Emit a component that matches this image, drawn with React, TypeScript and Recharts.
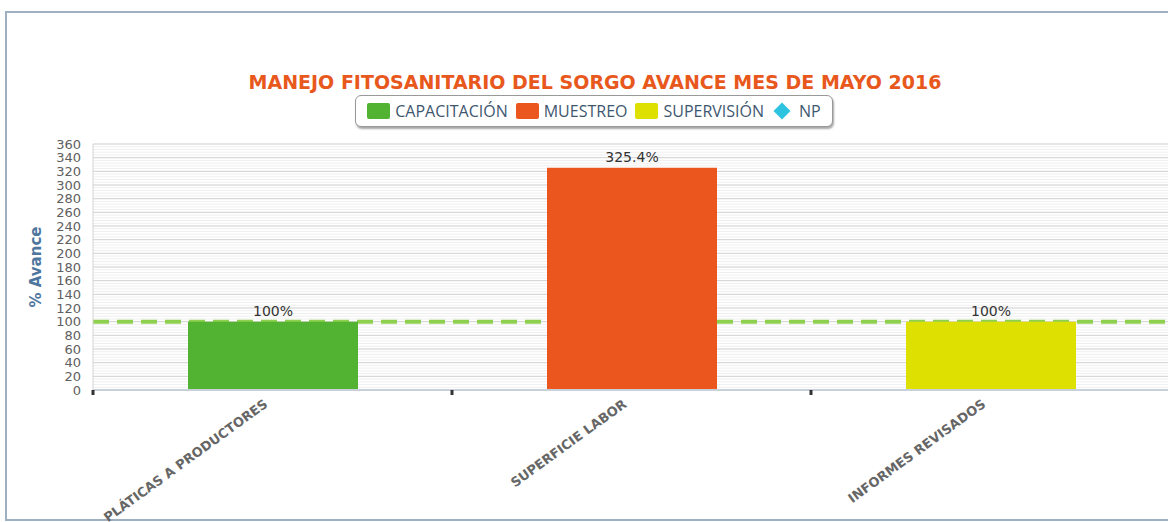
import { BarChart, Bar, XAxis, YAxis, CartesianGrid, Cell, LabelList } from 'recharts'

const categories = ['PLÁTICAS A PRODUCTORES', 'SUPERFICIE LABOR', 'INFORMES REVISADOS']
const avance = [100, 325.4, 100]
const barColors = ['#52b332', '#ea561d', '#dde000']
const metaNP = 100
const yTicks = [0, 20, 40, 60, 80, 100, 120, 140, 160, 180, 200, 220, 240, 260, 280, 300, 320, 340, 360]
const legendItems = [
  { label: 'CAPACITACIÓN', color: '#52b332', shape: 'square' },
  { label: 'MUESTREO', color: '#ea561d', shape: 'square' },
  { label: 'SUPERVISIÓN', color: '#dde000', shape: 'square' },
  { label: 'NP', color: '#2ec4e0', shape: 'diamond' }
]

const data = categories.map((name, i) => ({ name, value: avance[i] }))

// minor grid: every 4 units between the major lines
const minorTicks: number[] = []
for (let v = 0; v <= 360; v += 4) minorTicks.push(v)

const CHART_W = 1180
const PLOT_L = 93
const PLOT_R = 1170
const HALF_BAND = (PLOT_R - PLOT_L) / categories.length / 2

const font = '"DejaVu Sans", Verdana, sans-serif'

function CategoryTick(props: any) {
  const { x, y, payload } = props
  return (
    <g>
      <line x1={x - HALF_BAND} x2={x - HALF_BAND} y1={y - 8} y2={y - 3} stroke="#333" strokeWidth={3} />
      <text
        x={x - 4}
        y={y + 8}
        textAnchor="end"
        transform={`rotate(-36, ${x - 4}, ${y + 8})`}
        fill="#666"
        fontSize={13}
        fontWeight="bold"
        fontFamily={font}
      >
        {payload.value}
      </text>
    </g>
  )
}

export default function App() {
  return (
    <div style={{ position: 'absolute', left: 0, top: 0, width: 1168, height: 522, overflow: 'hidden', background: '#fff' }}>
      <div
        style={{
          position: 'absolute',
          left: 5,
          top: 11,
          width: 1200,
          height: 510,
          border: '2px solid #9fb0c0',
          boxSizing: 'border-box'
        }}
      />
      <div
        style={{
          position: 'absolute',
          left: 0,
          top: 71,
          width: 1190,
          textAlign: 'center',
          color: '#e8581c',
          fontFamily: font,
          fontWeight: 'bold',
          fontSize: 19
        }}
      >
        MANEJO FITOSANITARIO DEL SORGO AVANCE MES DE MAYO 2016
      </div>
      <div
        style={{
          position: 'absolute',
          left: 355,
          top: 95,
          width: 478,
          height: 32,
          border: '1px solid #999',
          borderRadius: 6,
          boxShadow: '1px 2px 2px rgba(0,0,0,0.35)',
          background: '#fff',
          display: 'flex',
          alignItems: 'center',
          justifyContent: 'center',
          gap: 8,
          boxSizing: 'border-box',
          fontFamily: '"Open Sans", sans-serif',
          fontSize: 16,
          color: '#3e576f'
        }}
      >
        {legendItems.map(it => (
          <div key={it.label} style={{ display: 'flex', alignItems: 'center', gap: 5 }}>
            {it.shape === 'square' ? (
              <span style={{ width: 23, height: 16, background: it.color, borderRadius: 2, display: 'inline-block' }} />
            ) : (
              <span style={{ width: 12, height: 12, background: it.color, transform: 'rotate(45deg)', display: 'inline-block', margin: '0 6px 0 4px' }} />
            )}
            <span>{it.label}</span>
          </div>
        ))}
      </div>
      <div style={{ position: 'absolute', left: 0, top: 0 }}>
        <BarChart width={CHART_W} height={522} data={data} margin={{ top: 144, right: CHART_W - PLOT_R, bottom: 0, left: 0 }}>
          <CartesianGrid horizontalValues={minorTicks} vertical={false} stroke="#efefef" strokeWidth={1} />
          <CartesianGrid horizontalValues={yTicks} vertical={false} stroke="#d4d4d4" strokeWidth={1} />
          <CartesianGrid horizontalValues={[metaNP]} vertical={false} stroke="#8fd14f" strokeWidth={4} strokeDasharray="16 8" />
          <XAxis
            dataKey="name"
            height={132}
            tickLine={false}
            tick={<CategoryTick />}
            axisLine={{ stroke: '#c8d0da', strokeWidth: 2 }}
            interval={0}
          />
          <YAxis
            width={PLOT_L}
            domain={[0, 360]}
            ticks={yTicks}
            interval={0}
            tickLine={false}
            tickSize={0}
            tickMargin={12}
            axisLine={{ stroke: '#d4d4d4' }}
            tick={{ fill: '#606060', fontSize: 13, fontFamily: font }}
            label={{
              value: '% Avance',
              angle: -90,
              position: 'insideLeft',
              offset: 36,
              style: { fill: '#4d759e', fontWeight: 'bold', fontSize: 15, fontFamily: font, textAnchor: 'middle' }
            }}
          />
          <Bar dataKey="value" barSize={170} isAnimationActive={false}>
            {data.map((d, i) => (
              <Cell key={d.name} fill={barColors[i]} />
            ))}
            <LabelList
              dataKey="value"
              position="top"
              offset={6}
              formatter={(v: any) => `${v}%`}
              style={{ fill: '#333', fontSize: 14, fontFamily: font }}
            />
          </Bar>
        </BarChart>
      </div>
    </div>
  )
}
